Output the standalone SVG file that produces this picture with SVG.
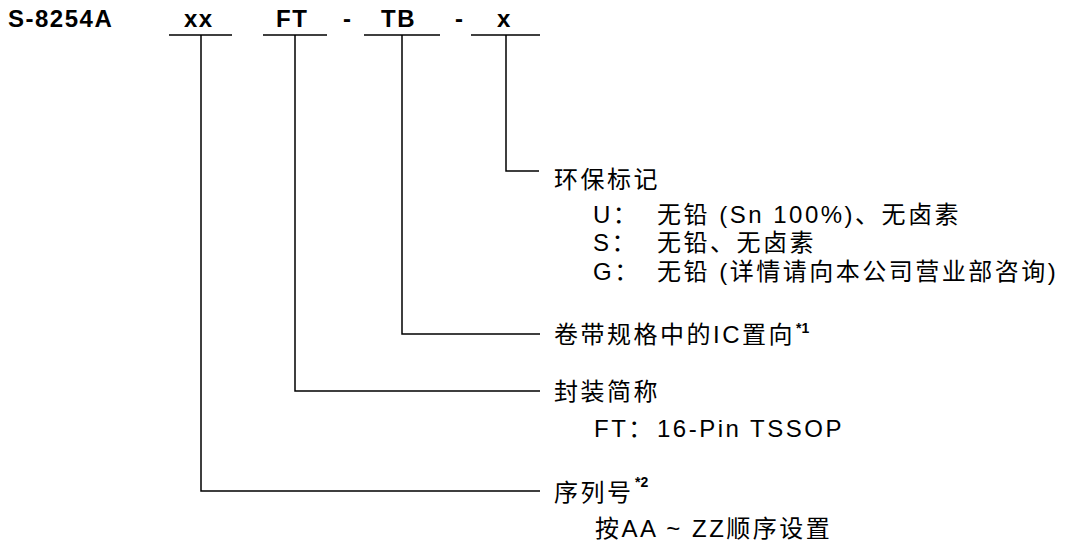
<svg xmlns="http://www.w3.org/2000/svg" width="1073" height="544" viewBox="0 0 1073 544">
<style>
.t{font-family:"Liberation Sans","Noto Sans CJK SC",sans-serif;font-size:24px;fill:#000;letter-spacing:2.5px}
.b{font-family:"Liberation Sans","Noto Sans CJK SC",sans-serif;font-size:24px;font-weight:bold;fill:#000;letter-spacing:1.5px}
.sup{font-family:"Liberation Sans",sans-serif;font-size:14px;font-weight:bold;fill:#000}
.ln{fill:none;stroke:#000;stroke-width:1.5}
</style>
<rect width="1073" height="544" fill="#fff"/>
<g id="code">
<text class="b" x="8" y="27">S-8254A</text>
<text class="b" x="184" y="27">xx</text>
<text class="b" x="276" y="27">FT</text>
<text class="b" x="343" y="27">-</text>
<text class="b" x="381" y="27">TB</text>
<text class="b" x="455" y="27">-</text>
<text class="b" x="497" y="27">x</text>
</g>
<g id="connectors">
<path class="ln" d="M169,35H232M263,35H327M364,35H440M471,35H540"/>
<path class="ln" d="M506,35V171H539"/>
<path class="ln" d="M402,35V334H540"/>
<path class="ln" d="M295,35V391H540"/>
<path class="ln" d="M201,35V491H540"/>
</g>
<g id="env-mark">
<text class="t" x="554" y="188">环保标记</text>
<text class="t" y="223"><tspan x="593">U：</tspan><tspan x="657">无铅 (Sn 100%)、无卤素</tspan></text>
<text class="t" y="251"><tspan x="593">S：</tspan><tspan x="657">无铅、无卤素</tspan></text>
<text class="t" y="280"><tspan x="593">G：</tspan><tspan x="657">无铅 (详情请向本公司营业部咨询)</tspan></text>
</g>
<g id="ic-orientation">
<text class="t" x="554" y="343">卷带规格中的IC置向</text>
<text class="sup" x="796" y="333">*1</text>
</g>
<g id="package">
<text class="t" x="554" y="400">封装简称</text>
<text class="t" y="437"><tspan x="594">FT：</tspan><tspan x="657">16-Pin TSSOP</tspan></text>
</g>
<g id="serial">
<text class="t" x="554" y="501">序列号</text>
<text class="sup" x="635" y="487">*2</text>
<text class="t" x="595" y="537">按AA ~ ZZ顺序设置</text>
</g>
</svg>
